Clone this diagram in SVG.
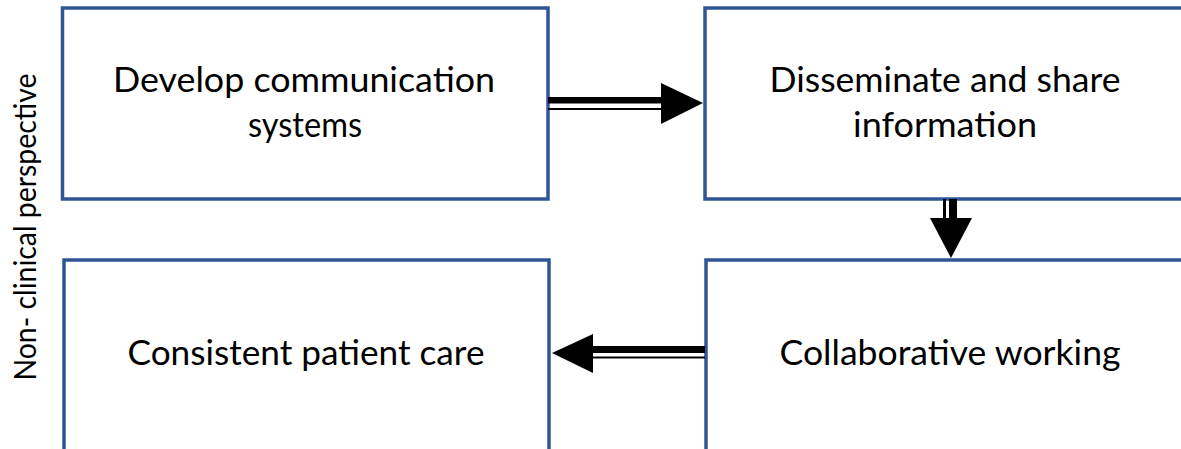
<svg xmlns="http://www.w3.org/2000/svg" width="1181" height="449" viewBox="0 0 1181 449">
<style>
.box{fill:#fff;stroke:#2F5597;stroke-width:3.5}
.t{font-family:Lato,"Open Sans",sans-serif;font-size:34px;fill:#000;text-anchor:middle}
.v{font-family:Lato,"Open Sans",sans-serif;font-size:30px;fill:#000;text-anchor:middle}
</style>
<rect width="1181" height="449" fill="#fff"/>
<text class="v" transform="translate(36,227) rotate(-90)" textLength="307" lengthAdjust="spacingAndGlyphs">Non- clinical perspective</text>
<g id="node1">
<rect class="box" x="62.5" y="8" width="485.5" height="191"/>
<text class="t" x="304" y="92" textLength="382" lengthAdjust="spacingAndGlyphs">Develop communication</text>
<text class="t" x="305" y="137" textLength="114" lengthAdjust="spacingAndGlyphs">systems</text>
</g>
<g id="node2">
<rect class="box" x="705" y="8" width="500" height="191"/>
<text class="t" x="945" y="92" textLength="351" lengthAdjust="spacingAndGlyphs">Disseminate and share</text>
<text class="t" x="945" y="137" textLength="184" lengthAdjust="spacingAndGlyphs">information</text>
</g>
<g id="node3">
<rect class="box" x="64" y="260" width="485" height="200"/>
<text class="t" x="306" y="365" textLength="357" lengthAdjust="spacingAndGlyphs">Consistent patient care</text>
</g>
<g id="node4">
<rect class="box" x="706" y="260" width="500" height="200"/>
<text class="t" x="950" y="365" textLength="341" lengthAdjust="spacingAndGlyphs">Collaborative working</text>
</g>
<g id="connectors" fill="#000">
<rect x="548" y="97" width="114" height="6.5"/>
<rect x="548" y="108" width="114" height="2"/>
<polygon points="661,83 703,103 661,124"/>
<rect x="943" y="199" width="3" height="20"/>
<rect x="949" y="199" width="8" height="20"/>
<polygon points="930,218 972,218 951,258"/>
<rect x="592" y="346" width="113" height="7"/>
<rect x="592" y="356.5" width="113" height="2"/>
<polygon points="593,334 552,353 593,373"/>
</g>
</svg>
